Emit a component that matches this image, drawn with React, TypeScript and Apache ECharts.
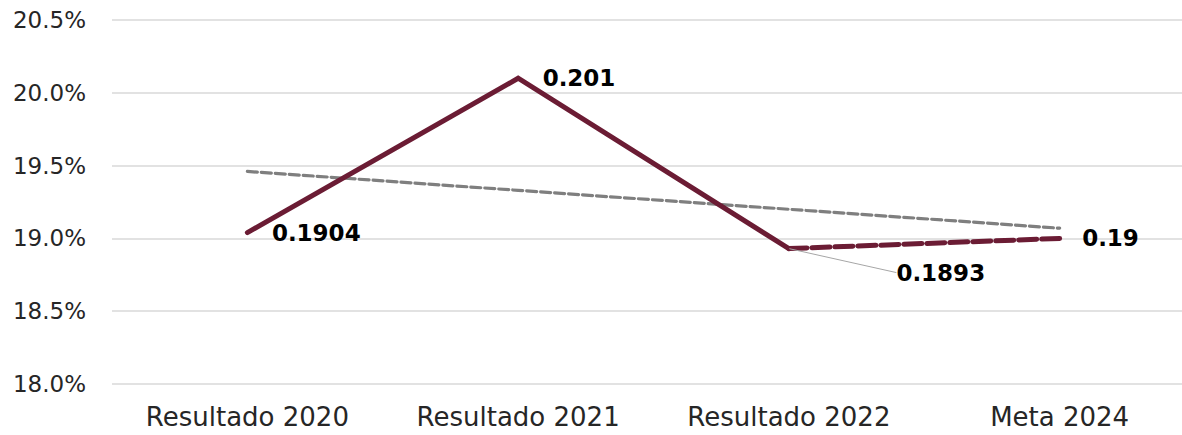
import React, { useEffect, useRef } from "react";
import * as echarts from "echarts";

const categories = ["Resultado 2020", "Resultado 2021", "Resultado 2022", "Meta 2024"];
const resultValues = [0.1904, 0.201, 0.1893, null];
const goalValues = [null, null, 0.1893, 0.19];
const trendValues = [0.1946, 0.1933, 0.192, 0.1907];
const yTicks = { min: 0.18, max: 0.205, interval: 0.005 };

const MAROON = "#6B1C34";
const FONT = "DejaVu Sans";

const labelStyle = {
  position: "right",
  distance: 24,
  color: "#000",
  fontFamily: FONT,
  fontWeight: "bold",
  fontSize: 23,
  formatter: (p: any) => String(p.value),
};

export default function App() {
  const ref = useRef<HTMLDivElement>(null);
  useEffect(() => {
    document.body.style.margin = "0";
    document.body.style.overflow = "hidden";
    document.documentElement.style.overflow = "hidden";
    const chart = echarts.init(ref.current!, null, { renderer: "svg" });
    chart.setOption({
      animation: false,
      grid: {
        left: 112,
        right: -13,
        top: 20,
        bottom: 51,
        containLabel: false,
        outerBoundsMode: "none",
      },
      xAxis: {
        type: "category",
        data: categories,
        boundaryGap: true,
        axisLine: { show: false },
        axisTick: { show: false },
        axisLabel: { color: "#262626", fontFamily: FONT, fontSize: 26, margin: 20 },
      },
      yAxis: {
        type: "value",
        min: yTicks.min,
        max: yTicks.max,
        interval: yTicks.interval,
        axisLine: { show: false },
        axisTick: { show: false },
        splitLine: { lineStyle: { color: "#d9d9d9", width: 1.5 } },
        axisLabel: {
          color: "#262626",
          fontFamily: FONT,
          fontSize: 23,
          margin: 26,
          formatter: (v: number) => (v * 100).toFixed(1) + "%",
        },
      },
      series: [
        {
          type: "line",
          name: "Tendencia",
          data: trendValues,
          showSymbol: false,
          symbol: "none",
          lineStyle: { color: "#7f7f7f", width: 3.2, type: [10, 4], cap: "round" },
          z: 1,
        },
        {
          type: "line",
          name: "Resultado",
          data: resultValues.map((v, i) =>
            i === 2
              ? {
                  value: v,
                  labelLine: { show: true, lineStyle: { color: "#a6a6a6", width: 1 } },
                }
              : v
          ),
          showSymbol: true,
          symbol: "circle",
          symbolSize: 1,
          itemStyle: { color: "rgba(0,0,0,0)" },
          lineStyle: { color: MAROON, width: 5, cap: "round", join: "miter" },
          label: { show: true, ...labelStyle },
          labelLayout: (p: any) => (p.dataIndex === 2 ? { dx: 83, dy: 24 } : {}),
          labelLine: { show: false, smooth: false, lineStyle: { color: "#a6a6a6", width: 1 } },
          z: 3,
        },
        {
          type: "line",
          name: "Meta",
          data: goalValues.map((v, i) => (i === 3 ? { value: v, label: { show: true } } : v)),
          showSymbol: true,
          symbol: "circle",
          symbolSize: 1,
          itemStyle: { color: "rgba(0,0,0,0)" },
          lineStyle: { color: MAROON, width: 5, type: [18, 5], cap: "round" },
          label: { show: false, ...labelStyle, distance: 22 },
          z: 2,
        },
      ],
    });
    return () => chart.dispose();
  }, []);
  return <div ref={ref} style={{ width: 1182, height: 435, overflow: "hidden" }} />;
}
